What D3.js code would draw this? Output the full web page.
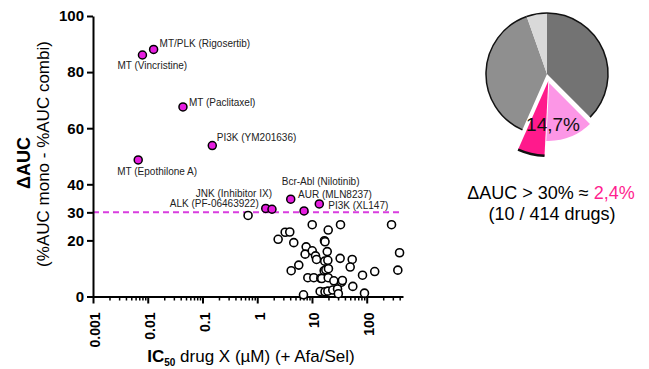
<!DOCTYPE html>
<html>
<head>
<meta charset="utf-8">
<script src="https://cdn.jsdelivr.net/npm/d3@7"></script>
<style>
  body { margin: 0; background: #fff; }
  text { font-family: "Liberation Sans", Arial, sans-serif; }
</style>
</head>
<body>
<div id="chart"></div>
<script>
// hits: dAUC > 30 %
const hitNames = [
  'MT/PLK (Rigosertib)', 'MT (Vincristine)', 'MT (Paclitaxel)', 'PI3K (YM201636)',
  'MT (Epothilone A)', 'ALK (PF-06463922)', 'JNK (Inhibitor IX)', 'Bcr-Abl (Nilotinib)',
  'AUR (MLN8237)', 'PI3K (XL147)'
];
const hitIC50 = [0.0128, 0.0080, 0.044, 0.151, 0.0067, 1.43, 1.86, 4.09, 7.16, 13.6];
const hitDAUC = [88.1, 86.1, 67.6, 53.8, 48.7, 31.4, 31.1, 34.7, 30.5, 33.0];

// remaining drugs
const otherIC50 = [0.68, 10.1, 33.2, 284, 19.8, 3.24, 3.93, 2.41, 16.9, 17.3, 4.65, 7.83, 398, 7.5,
  10.1, 11.6, 12.1, 19, 32.7, 54.3, 17.1, 19.5, 5.74, 4.17, 16.7, 17.9, 20, 49.9, 140, 370, 83.8,
  8.4, 10.8, 14.5, 15.1, 19.8, 25.1, 34.7, 35.9, 55.7, 14.1, 17.3, 19.5, 24, 29.3, 30.3, 7, 91];
const otherDAUC = [28.9, 25.6, 25.6, 25.6, 23.7, 22.9, 23, 20.4, 19.9, 19.5, 19.2, 17.7, 15.6, 15.1,
  16.3, 14.5, 13.2, 16, 13.6, 13.2, 12.6, 12.9, 11.2, 9.2, 9.2, 9.5, 9.9, 10.5, 8.9, 9.4, 7.6,
  6.7, 6.7, 6.5, 6.4, 6.7, 5.6, 5.1, 5.7, 3.6, 1.8, 1.7, 1.9, 2.3, 2.7, 1, 0.6, 1.2];

const threshold = 30;
const yTicks = [0, 20, 30, 40, 60, 80, 100];
const xTicks = [0.001, 0.01, 0.1, 1, 10, 100];
const xTickLabels = ['0.001', '0.01', '0.1', '1', '10', '100'];

// pie (share of drugs, %)
const pieValues = [37.5, 13.3, 5.8, 38.0, 5.4];
const pieColors = ['#737373', '#fc96e6', '#ff1a8c', '#8f8f8f', '#d9d9d9'];
const pieLabel = '14,7%';

// label placement relative to its dot: dx, dy, anchor
const labelLayout = [
  [6, -2, 'start'], [-25, 14, 'start'], [6, -1, 'start'], [4.5, -4.5, 'start'],
  [-21, 15, 'start'], [-7, -1, 'end'], [0, -12, 'end'], [-9, -14, 'start'],
  [-6, -13, 'start'], [9, 5, 'start']
];

const width = 649, height = 369;
const svg = d3.select('#chart').append('svg')
  .attr('width', width)
  .attr('height', height);

const x = d3.scaleLog().domain([0.001, 460]).range([93, 403]);
const y = d3.scaleLinear().domain([0, 100]).range([296.5, 16]);

// threshold line
svg.append('line')
  .attr('x1', x.range()[0]).attr('x2', x.range()[1])
  .attr('y1', y(threshold)).attr('y2', y(threshold))
  .attr('stroke', '#d93ddf')
  .attr('stroke-width', 2)
  .attr('stroke-dasharray', '6,4');

// y axis
const yAxis = svg.append('g')
  .attr('transform', 'translate(' + x.range()[0] + ',0)')
  .call(d3.axisLeft(y).tickValues(yTicks).tickSize(6).tickPadding(3).tickSizeOuter(0));
yAxis.select('.domain').attr('stroke', '#000').attr('stroke-width', 2);
yAxis.selectAll('.tick line').attr('stroke-width', 2);
yAxis.selectAll('.tick text')
  .attr('font-size', 15).attr('font-weight', 'bold').attr('fill', '#000')
  .style('font-family', '"Liberation Sans", Arial, sans-serif');

// x axis: minor ticks
const minor = [];
xTicks.forEach(b => {
  for (let k = 2; k <= 9; k++) {
    if (b * k <= x.domain()[1]) minor.push(b * k);
  }
});
const xAxisMinor = svg.append('g')
  .attr('transform', 'translate(0,' + y(0) + ')')
  .call(d3.axisBottom(x).tickValues(minor).tickSize(4).tickFormat('').tickSizeOuter(0));
xAxisMinor.selectAll('.tick line').attr('stroke-width', 1.5);
xAxisMinor.select('.domain').remove();

const xAxis = svg.append('g')
  .attr('transform', 'translate(0,' + y(0) + ')')
  .call(d3.axisBottom(x).tickValues(xTicks).tickSize(7).tickSizeOuter(0)
    .tickFormat((d, i) => xTickLabels[i]));
xAxis.select('.domain').attr('stroke', '#000').attr('stroke-width', 2);
xAxis.selectAll('.tick line').attr('stroke-width', 2);
xAxis.selectAll('.tick text')
  .attr('font-size', 14).attr('font-weight', 'bold').attr('fill', '#000')
  .style('font-family', '"Liberation Sans", Arial, sans-serif')
  .attr('transform', 'rotate(-90)')
  .attr('text-anchor', 'end')
  .attr('x', -16).attr('y', 2).attr('dy', '0.35em');

// axis titles
const xTitle = svg.append('text')
  .attr('x', 251).attr('y', 362)
  .attr('text-anchor', 'middle')
  .attr('font-size', 17);
xTitle.append('tspan').attr('font-weight', 'bold').text('IC');
xTitle.append('tspan').attr('font-size', 10).attr('font-weight', 'bold').attr('dy', 4).text('50');
xTitle.append('tspan').attr('dy', -4).text(' drug X (µM) (+ Afa/Sel)');

svg.append('text')
  .attr('transform', 'translate(30,163) rotate(-90)')
  .attr('text-anchor', 'middle')
  .attr('font-size', 18).attr('font-weight', 'bold')
  .text('ΔAUC');
svg.append('text')
  .attr('transform', 'translate(49,154) rotate(-90)')
  .attr('text-anchor', 'middle')
  .attr('font-size', 17)
  .text('(%AUC mono - %AUC combi)');

// other drugs
svg.append('g').selectAll('circle')
  .data(otherIC50.map((v, i) => ({ ic: v, d: otherDAUC[i] })))
  .enter().append('circle')
  .attr('cx', d => x(d.ic))
  .attr('cy', d => y(d.d))
  .attr('r', 4)
  .attr('fill', '#fff')
  .attr('stroke', '#000')
  .attr('stroke-width', 1.6);

// hits
const hits = hitNames.map((n, i) => ({ name: n, ic: hitIC50[i], d: hitDAUC[i], lay: labelLayout[i] }));
svg.append('g').selectAll('circle')
  .data(hits)
  .enter().append('circle')
  .attr('cx', d => x(d.ic))
  .attr('cy', d => y(d.d))
  .attr('r', 4)
  .attr('fill', '#e61ee0')
  .attr('stroke', '#000')
  .attr('stroke-width', 1.5);

svg.append('g').selectAll('text')
  .data(hits)
  .enter().append('text')
  .attr('x', d => x(d.ic) + d.lay[0])
  .attr('y', d => y(d.d) + d.lay[1])
  .attr('text-anchor', d => d.lay[2])
  .attr('font-size', 10)
  .attr('fill', '#222')
  .text(d => d.name);

// pie
const cx = 547, cy = 74, r = 61;
const pie = d3.pie().sort(null).value(d => d);
const arcs = pie(pieValues);
const pieG = svg.append('g').attr('transform', 'translate(' + cx + ',' + cy + ')');
const arc = d3.arc().innerRadius(0);
const mid = (arcs[1].startAngle + arcs[2].endAngle) / 2;
const off = 7;
const offX = Math.sin(mid) * off, offY = -Math.cos(mid) * off;

[0, 3, 4].forEach(i => {
  pieG.append('path')
    .attr('d', arc.outerRadius(r)(arcs[i]))
    .attr('fill', pieColors[i]);
});
// outer outline of grey part
[0, 3, 4].forEach(i => {
  pieG.append('path')
    .attr('d', d3.arc().innerRadius(r).outerRadius(r)(arcs[i]))
    .attr('fill', 'none')
    .attr('stroke', '#111')
    .attr('stroke-width', 1.5);
});

const pinkG = pieG.append('g').attr('transform', 'translate(' + offX + ',' + offY + ')');
pinkG.append('path')
  .attr('d', d3.arc().innerRadius(0).outerRadius(r)(arcs[1]))
  .attr('fill', pieColors[1])
  .attr('stroke', '#fff')
  .attr('stroke-width', 2);
pinkG.append('path')
  .attr('d', d3.arc().innerRadius(0).outerRadius(75)(arcs[2]))
  .attr('fill', pieColors[2]);
pinkG.append('path')
  .attr('d', d3.arc().innerRadius(75).outerRadius(75)(arcs[2]))
  .attr('fill', 'none')
  .attr('stroke', '#111')
  .attr('stroke-width', 2.5);

svg.append('text')
  .attr('x', 553).attr('y', 131)
  .attr('text-anchor', 'middle')
  .attr('font-size', 19)
  .attr('fill', '#111')
  .text(pieLabel);

const line1 = svg.append('text')
  .attr('x', 551).attr('y', 199)
  .attr('text-anchor', 'middle')
  .attr('font-size', 18);
line1.append('tspan').text('ΔAUC > 30% ≈ ');
line1.append('tspan').attr('fill', '#ff1f8f').text('2,4%');

svg.append('text')
  .attr('x', 552).attr('y', 220)
  .attr('text-anchor', 'middle')
  .attr('font-size', 18)
  .text('(10 / 414 drugs)');
</script>
</body>
</html>
